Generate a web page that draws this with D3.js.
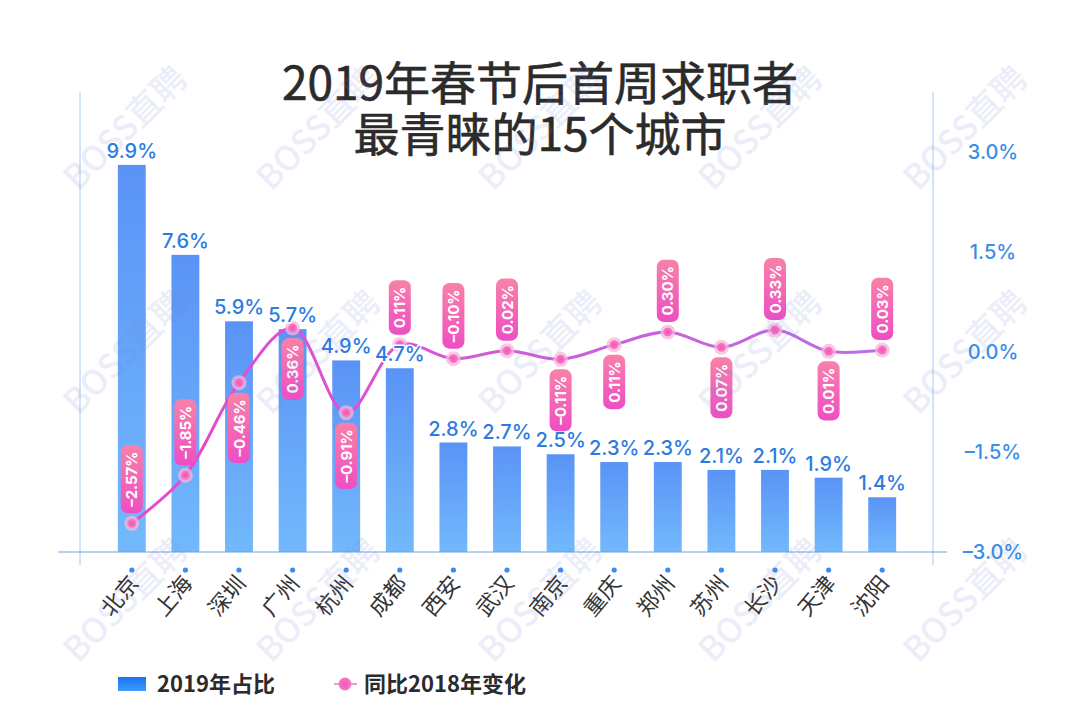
<!DOCTYPE html>
<html>
<head>
<meta charset="utf-8">
<script src="https://cdn.jsdelivr.net/npm/d3@7"></script>
<style>
  html, body { margin: 0; padding: 0; background: #ffffff; }
  svg { display: block; }
</style>
</head>
<body>
<div id="chart"></div>
<script>
// ---------- data ----------
const categories = ["北京","上海","深圳","广州","杭州","成都","西安","武汉","南京","重庆","郑州","苏州","长沙","天津","沈阳"];
const share2019 = [9.9, 7.6, 5.9, 5.7, 4.9, 4.7, 2.8, 2.7, 2.5, 2.3, 2.3, 2.1, 2.1, 1.9, 1.4];
const change2018 = [-2.57, -1.85, -0.46, 0.36, -0.91, 0.11, -0.10, 0.02, -0.11, 0.11, 0.30, 0.07, 0.33, 0.01, 0.03];
const rightTicks = [3.0, 1.5, 0.0, -1.5, -3.0];
const rightTickLabels = ["3.0%", "1.5%", "0.0%", "–1.5%", "–3.0%"];
const titleLines = ["2019年春节后首周求职者", "最青睐的15个城市"];
const legendLabels = ["2019年占比", "同比2018年变化"];

// label placement for the change pills (layout, not data)
const pillAbove = [true, true, false, false, false, true, true, true, false, false, true, false, true, false, true];

// ---------- setup ----------
const W = 1080, H = 712;
const svg = d3.select("#chart").append("svg").attr("width", W).attr("height", H);
const defs = svg.append("defs");

const CJK = "'Noto Sans CJK SC', 'Noto Sans', sans-serif";
const NUM = "Inter, 'Noto Sans', sans-serif";

const baseY = 552;
const x = d3.scaleBand().domain(categories).range([105, 909]).paddingInner(0.48).paddingOuter(0.24);
const yBar = d3.scaleLinear().domain([0, 10]).range([baseY, 161]);
const yLine = d3.scaleLinear().domain([-3, 3]).range([baseY, 152]);

// gradients
const gBar = defs.append("linearGradient").attr("id", "gBar").attr("x1", 0).attr("y1", 0).attr("x2", 0).attr("y2", 1);
gBar.append("stop").attr("offset", "0%").attr("stop-color", "#5a93f6");
gBar.append("stop").attr("offset", "100%").attr("stop-color", "#72b9fc");

const gLeg = defs.append("linearGradient").attr("id", "gLeg").attr("x1", 0).attr("y1", 0).attr("x2", 0).attr("y2", 1);
gLeg.append("stop").attr("offset", "0%").attr("stop-color", "#1673f3");
gLeg.append("stop").attr("offset", "100%").attr("stop-color", "#3f9bfb");

const gPill = defs.append("linearGradient").attr("id", "gPill").attr("x1", 0).attr("y1", 0).attr("x2", 0).attr("y2", 1);
gPill.append("stop").attr("offset", "0%").attr("stop-color", "#f881a8");
gPill.append("stop").attr("offset", "100%").attr("stop-color", "#ee4ec3");

const gLine = defs.append("linearGradient").attr("id", "gLine").attr("gradientUnits", "userSpaceOnUse")
  .attr("x1", 120).attr("y1", 0).attr("x2", 900).attr("y2", 0);
gLine.append("stop").attr("offset", "0%").attr("stop-color", "#ea46cc");
gLine.append("stop").attr("offset", "100%").attr("stop-color", "#b86fe6");

const gDot = defs.append("radialGradient").attr("id", "gDot");
gDot.append("stop").attr("offset", "0%").attr("stop-color", "#f254b6");
gDot.append("stop").attr("offset", "100%").attr("stop-color", "#f57cc4");

// ---------- title (one text block, two lines) ----------
const title = svg.append("text")
  .attr("text-anchor", "middle")
  .attr("font-family", CJK).attr("font-size", 46).attr("font-weight", 400)
  .attr("fill", "#2b2b2b");
title.selectAll("tspan").data(titleLines).join("tspan")
  .attr("x", W / 2).attr("y", (d, i) => 100 + i * 51)
  .attr("stroke", "#2b2b2b").attr("stroke-width", 0.6)
  .text(d => d);

// ---------- axis frame lines ----------
svg.append("line").attr("x1", 80).attr("x2", 80).attr("y1", 92).attr("y2", 565)
  .attr("stroke", "#a9c6f0").attr("stroke-width", 1);
svg.append("line").attr("x1", 933).attr("x2", 933).attr("y1", 92).attr("y2", 565)
  .attr("stroke", "#a9c6f0").attr("stroke-width", 1);

// ---------- bars ----------
svg.append("g").selectAll("rect").data(share2019).join("rect")
  .attr("x", (d, i) => x(categories[i]))
  .attr("y", d => yBar(d))
  .attr("width", x.bandwidth())
  .attr("height", d => baseY - yBar(d))
  .attr("fill", "url(#gBar)");

// baseline
svg.append("line").attr("x1", 58).attr("x2", 947).attr("y1", baseY).attr("y2", baseY)
  .attr("stroke", "#6fa3e6").attr("stroke-width", 1.2);

// ---------- x axis ----------
const xAxis = svg.append("g").attr("transform", `translate(0,${baseY})`)
  .call(d3.axisBottom(x).tickSize(0).tickPadding(0));
xAxis.select(".domain").remove();
xAxis.selectAll(".tick").append("circle").attr("cy", 18).attr("r", 2.6).attr("fill", "#3a8cf0");
xAxis.selectAll(".tick text")
  .attr("font-family", CJK).attr("font-size", 22).attr("fill", "#333")
  .attr("text-anchor", "end")
  .attr("dy", 0)
  .attr("transform", "translate(8,32) rotate(-50)");

// ---------- right axis ----------
const rAxis = svg.append("g").attr("transform", "translate(933,0)")
  .call(d3.axisRight(yLine).tickValues(rightTicks).tickSize(0)
    .tickFormat((d, i) => rightTickLabels[i]));
rAxis.select(".domain").remove();
rAxis.selectAll(".tick text")
  .attr("x", 60).attr("text-anchor", "middle")
  .attr("font-family", NUM).attr("font-size", 20).attr("font-weight", 500)
  .attr("fill", "#3b8de6");

// ---------- line ----------
const pts = change2018.map((v, i) => [x(categories[i]) + x.bandwidth() / 2, yLine(v)]);
svg.append("path")
  .attr("d", d3.line().curve(d3.curveCatmullRom.alpha(0.5))(pts))
  .attr("fill", "none").attr("stroke", "url(#gLine)").attr("stroke-width", 3);

const dots = svg.append("g").selectAll("g").data(pts).join("g")
  .attr("transform", d => `translate(${d[0]},${d[1]})`);
dots.append("circle").attr("r", 7.5).attr("fill", "#f8b4de").attr("opacity", 0.75);
dots.append("circle").attr("r", 4.5).attr("fill", "url(#gDot)");

// ---------- bar value labels (on top, white halo) ----------
svg.append("g").selectAll("text").data(share2019).join("text")
  .attr("x", (d, i) => x(categories[i]) + x.bandwidth() / 2)
  .attr("y", d => yBar(d) - 7)
  .attr("text-anchor", "middle")
  .attr("font-family", NUM).attr("font-size", 20).attr("font-weight", 500)
  .attr("fill", "#2b7be3")
  .attr("stroke", "#ffffff").attr("stroke-width", 3).attr("paint-order", "stroke")
  .attr("stroke-linejoin", "round")
  .text(d => d.toFixed(1) + "%");

// ---------- change pills ----------
const fmtChange = v => (v < 0 ? "–" : "") + Math.abs(v).toFixed(2) + "%";
const pillG = svg.append("g").selectAll("g").data(change2018).join("g");
pillG.each(function (v, i) {
  const g = d3.select(this);
  const label = fmtChange(v);
  const t = g.append("text")
    .attr("font-family", NUM).attr("font-size", 15).attr("font-weight", 700)
    .attr("fill", "#ffffff").attr("text-anchor", "middle")
    .text(label);
  const len = t.node().getComputedTextLength() + 13;
  const cx = pts[i][0], cy = pts[i][1];
  const gap = 10;
  const top = pillAbove[i] ? cy - gap - len : cy + gap;
  g.insert("rect", "text")
    .attr("x", cx - 11).attr("y", top).attr("width", 22).attr("height", len)
    .attr("rx", 7).attr("fill", "url(#gPill)");
  t.attr("transform", `translate(${cx + 5.5},${top + len / 2}) rotate(-90)`);
});

// ---------- legend ----------
const leg = svg.append("g");
leg.append("rect").attr("x", 118).attr("y", 677).attr("width", 28).attr("height", 14).attr("fill", "url(#gLeg)");
leg.append("text").attr("x", 157).attr("y", 692)
  .attr("font-family", CJK).attr("font-size", 22).attr("font-weight", 700).attr("fill", "#2b2b2b")
  .text(legendLabels[0]);
leg.append("line").attr("x1", 334).attr("x2", 357).attr("y1", 684).attr("y2", 684)
  .attr("stroke", "#ee9ad8").attr("stroke-width", 2);
leg.append("circle").attr("cx", 345).attr("cy", 684).attr("r", 6.5).attr("fill", "url(#gDot)");
leg.append("text").attr("x", 364).attr("y", 692)
  .attr("font-family", CJK).attr("font-size", 22).attr("font-weight", 700).attr("fill", "#2b2b2b")
  .text(legendLabels[1]);

// ---------- watermark ----------
const wmCols = [125, 318, 540, 760, 965];
const wmRows = [128, 352, 600];
const wm = svg.append("g").attr("pointer-events", "none");
wmRows.forEach(ry => wmCols.forEach(cx => {
  wm.append("text")
    .attr("transform", `translate(${cx},${ry}) rotate(-45)`)
    .attr("text-anchor", "middle").attr("dy", "0.35em")
    .attr("font-family", CJK).attr("font-size", 34).attr("font-weight", 500)
    .attr("fill", "#6f7fd6").attr("opacity", 0.13)
    .text("BOSS直聘");
}));
</script>
</body>
</html>
